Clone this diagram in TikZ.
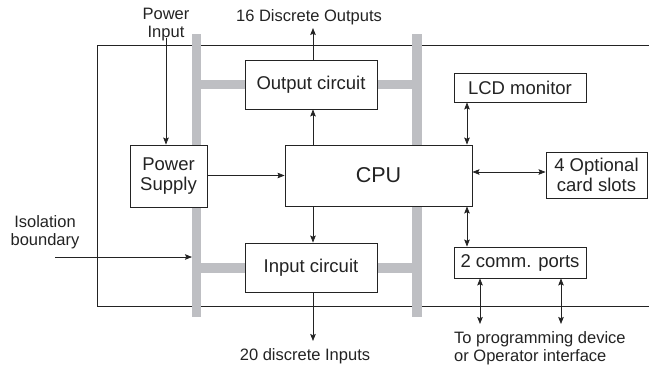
\documentclass[tikz,border=0pt]{standalone}
\usepackage{fontspec}
\setmainfont{Liberation Sans}
\usetikzlibrary{arrows.meta}
\definecolor{barcol}{RGB}{190,191,195}
\definecolor{inkcol}{RGB}{35,35,35}
\tikzset{
  blk/.style={draw=inkcol, line width=0.9pt, fill=white, inner sep=0pt, text=inkcol,
              font=\fontsize{18.5}{20.5}\selectfont, align=center},
  lbl/.style={inner sep=0pt, text=inkcol, font=\fontsize{16.5}{18}\selectfont, align=center},
  conn/.style={draw=inkcol, line width=0.7pt, -{Stealth[length=7pt,width=5.5pt,inset=1.2pt]}},
  bconn/.style={draw=inkcol, line width=0.7pt, {Stealth[length=7pt,width=5.5pt,inset=1.2pt]}-{Stealth[length=7pt,width=5.5pt,inset=1.2pt]}},
  bar/.style={fill=barcol, draw=none}
}
\begin{document}
\begin{tikzpicture}[x=1pt,y=-1pt]
\useasboundingbox (0,0) rectangle (649,368);
% isolation boundary
\draw[draw=inkcol, line width=0.8pt] (649,45.5) -- (97,45.5) -- (97,306) -- (649,306);
% gray bars
\fill[bar] (192,34) rectangle (201,317);
\fill[bar] (412,34) rectangle (422,317);
\fill[bar] (201,79.5) rectangle (412,89);
\fill[bar] (201,263) rectangle (412,272.5);
% blocks
\node[blk, minimum width=132pt, minimum height=49pt] (out) at (311,84.5) {Output circuit};
\node[blk, minimum width=132pt, minimum height=49pt] (in) at (311,267.5) {Input circuit};
\node[blk, minimum width=187pt, minimum height=61pt, font=\fontsize{21.5}{24}\selectfont] (cpu) at (378.5,175.5) {CPU};
\node[blk, minimum width=77pt, minimum height=62pt] (ps) at (168.5,176) {Power\\Supply};
\node[blk, minimum width=132pt, minimum height=29pt] (lcd) at (520,87.5) {LCD monitor};
\node[blk, minimum width=101pt, minimum height=46pt] (card) at (596.5,175) {4 Optional\\card slots};
\node[blk, minimum width=132pt, minimum height=31pt] (comm) at (520,262.5) {2 comm. ports};
% labels
\node[lbl] (pin) at (166,24.5) {Power\\Input};
\node[lbl] (dout) at (309,17) {16 Discrete Outputs};
\node[lbl] (iso) at (45,232) {Isolation\\boundary};
\node[lbl] (din) at (305,356.5) {20 discrete Inputs};
\node[lbl, align=left, anchor=west] (prog) at (454,348) {To programming device\\or Operator interface};
% free ends
\coordinate (pinE) at (166,38);
\coordinate (doutE) at (313,28);
\coordinate (dinE) at (313,341);
\coordinate (isoS) at (55,257);
\coordinate (isoE) at (192,257);
\coordinate (p1) at (480,324);
\coordinate (p2) at (561,324);
% connectors
\draw[conn] (pinE) -- (pinE |- ps.north);
\draw[conn] (out.north -| doutE) -- (doutE);
\draw[conn] (cpu.north -| doutE) -- (out.south -| doutE);
\draw[conn] (cpu.south -| dinE) -- (in.north -| dinE);
\draw[conn] (in.south -| dinE) -- (dinE);
\draw[conn] (ps.east |- 0,175.5) -- (cpu.west |- 0,175.5);
\draw[bconn] (467,0 |- lcd.south) -- (467,0 |- cpu.north);
\draw[bconn] (467,0 |- cpu.south) -- (467,0 |- comm.north);
\draw[bconn] (cpu.east |- 0,172) -- (card.west |- 0,172);
\draw[bconn] (comm.south -| p1) -- (p1);
\draw[bconn] (comm.south -| p2) -- (p2);
\draw[conn] (isoS) -- (isoE);
\end{tikzpicture}
\end{document}
